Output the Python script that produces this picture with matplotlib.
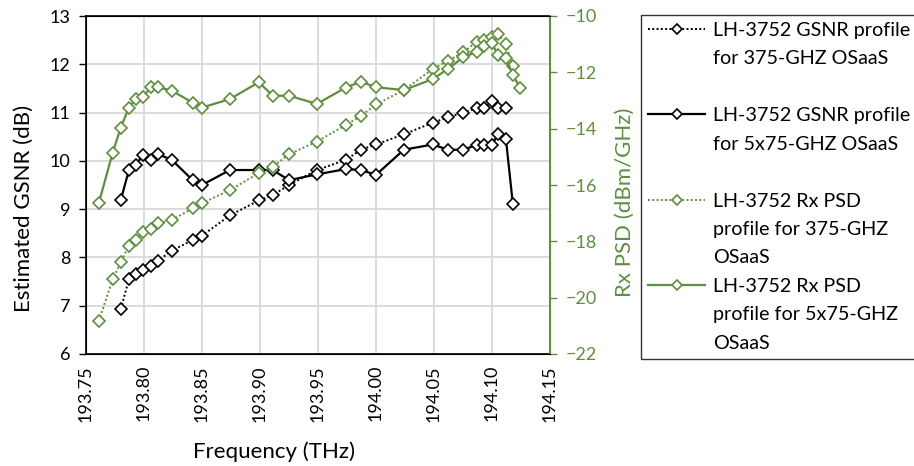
import numpy as np
import matplotlib
matplotlib.use("Agg")
import matplotlib.pyplot as plt
from matplotlib.lines import Line2D

plt.rcParams["font.family"] = ["Lato", "DejaVu Sans"]

GREEN = "#5E8E3E"

# GSNR profiles (left axis, dB)
freq_gsnr_375 = [193.780, 193.787, 193.793, 193.799, 193.806, 193.812, 193.824, 193.842,
                 193.850, 193.874, 193.899, 193.911, 193.925, 193.949, 193.974, 193.987,
                 194.000, 194.024, 194.049, 194.062, 194.075, 194.087, 194.093, 194.100,
                 194.105, 194.112]
gsnr_375 = [6.93, 7.55, 7.66, 7.73, 7.83, 7.93, 8.14, 8.36, 8.45, 8.87, 9.18, 9.29, 9.50,
            9.81, 10.02, 10.23, 10.34, 10.55, 10.79, 10.90, 11.00, 11.09, 11.09, 11.23,
            11.09, 11.09]

freq_gsnr_5x75 = freq_gsnr_375 + [194.118]
gsnr_5x75 = [9.19, 9.81, 9.92, 10.12, 10.02, 10.14, 10.02, 9.60, 9.50, 9.81, 9.81, 9.81,
             9.60, 9.72, 9.83, 9.81, 9.71, 10.23, 10.34, 10.23, 10.23, 10.33, 10.33, 10.33,
             10.55, 10.45, 9.10]

# Rx PSD profiles (right axis, dBm/GHz)
freq_psd_375 = [193.761, 193.773] + freq_gsnr_375 + [194.118]
psd_375 = [-20.83, -19.35, -18.74, -18.15, -17.95, -17.68, -17.56, -17.36, -17.24, -16.83,
           -16.65, -16.18, -15.58, -15.35, -14.91, -14.46, -13.87, -13.55, -13.14, -12.63,
           -11.88, -11.59, -11.29, -10.91, -10.85, -10.73, -10.65, -10.99, -11.76]

freq_psd_5x75 = [193.761, 193.773] + freq_gsnr_375 + [194.118, 194.124]
psd_5x75 = [-16.65, -14.85, -13.96, -13.25, -12.95, -12.86, -12.53, -12.53, -12.65, -13.08,
            -13.25, -12.95, -12.35, -12.83, -12.83, -13.12, -12.54, -12.33, -12.53, -12.63,
            -12.24, -11.88, -11.47, -11.27, -11.05, -10.97, -11.38, -11.48, -12.09, -12.54]

x_ticks = [193.75, 193.80, 193.85, 193.90, 193.95, 194.00, 194.05, 194.10, 194.15]

labels = [
    "LH-3752 GSNR profile\nfor 375-GHZ OSaaS",
    "LH-3752 GSNR profile\nfor 5x75-GHZ OSaaS",
    "LH-3752 Rx PSD\nprofile for 375-GHZ\nOSaaS",
    "LH-3752 Rx PSD\nprofile for 5x75-GHZ\nOSaaS",
]

fig = plt.figure(figsize=(9.14, 4.66), dpi=100)
ax = fig.add_axes([86 / 914, 1 - 354 / 466, 464 / 914, 338 / 466])
ax2 = ax.twinx()

mk = dict(marker="D", markersize=6, markerfacecolor="white", markeredgewidth=1.2)
l1, = ax.plot(freq_gsnr_375, gsnr_375, color="black", linestyle=(0, (1, 1.2)), lw=1.4,
              markeredgecolor="black", **mk)
l2, = ax.plot(freq_gsnr_5x75, gsnr_5x75, color="black", linestyle="-", lw=1.6,
              markeredgecolor="black", **mk)
l3, = ax2.plot(freq_psd_375, psd_375, color=GREEN, linestyle=(0, (1, 1.2)), lw=1.4,
               markeredgecolor=GREEN, **mk)
l4, = ax2.plot(freq_psd_5x75, psd_5x75, color=GREEN, linestyle="-", lw=1.6,
               markeredgecolor=GREEN, **mk)

ax.set_xlim(193.75, 194.15)
ax.set_ylim(6, 13)
ax2.set_ylim(-22, -10)
ax.set_xticks(x_ticks)
ax.set_xticklabels([f"{v:.2f}" for v in x_ticks], rotation=90, fontsize=13)
ax.set_yticks(np.arange(6, 14, 1))
ax2.set_yticks(np.arange(-22, -9, 2))
ax.tick_params(axis="y", labelsize=13, length=5, width=1, pad=6)
ax.tick_params(axis="x", length=0, pad=8)
ax2.tick_params(axis="y", labelsize=13, length=5, width=1, colors=GREEN, pad=6)

ax.grid(True, color="#D9D9D9", lw=1.3)
ax.set_axisbelow(True)
for s in ["left", "bottom", "top"]:
    ax.spines[s].set_linewidth(1.2)
ax2.spines["right"].set_color(GREEN)
ax2.spines["right"].set_linewidth(1.5)
ax.spines["right"].set_visible(False)

ax.set_ylabel("Estimated GSNR (dB)", fontsize=16)
ax.yaxis.set_label_coords(-0.112, 0.43)
ax2.set_ylabel("Rx PSD (dBm/GHz)", fontsize=16, color=GREEN)
ax2.yaxis.set_label_coords(1.14, 0.45)
fig.text(274 / 914, 1 - 452 / 466, "Frequency (THz)", fontsize=16, ha="center", va="center")

# legend rows: first line of each entry carries the handle, the rest are text only
blank = Line2D([], [], color="none")
handles, texts = [], []
for i, (h, lab) in enumerate(zip([l1, l2, l3, l4], labels)):
    lines = lab.split("\n")
    handles.append(h)
    texts.append(lines[0])
    for extra in lines[1:]:
        handles.append(blank)
        texts.append(extra)
    if i < 2:
        handles.append(blank)
        texts.append(" ")

leg_top = 1 - 15 / 466
leg = fig.legend(handles, texts, loc="upper left",
                 bbox_to_anchor=(641 / 914, leg_top - 0.8, 0.33, 0.8), mode="expand",
                 fontsize=14.2, frameon=True, fancybox=False, edgecolor="black",
                 handlelength=2.9, handletextpad=0.4, labelspacing=0.58, borderpad=0.35,
                 markerscale=0.8, borderaxespad=0)
leg.get_frame().set_linewidth(1.0)

plt.savefig("out.png", dpi=100)
plt.close()
